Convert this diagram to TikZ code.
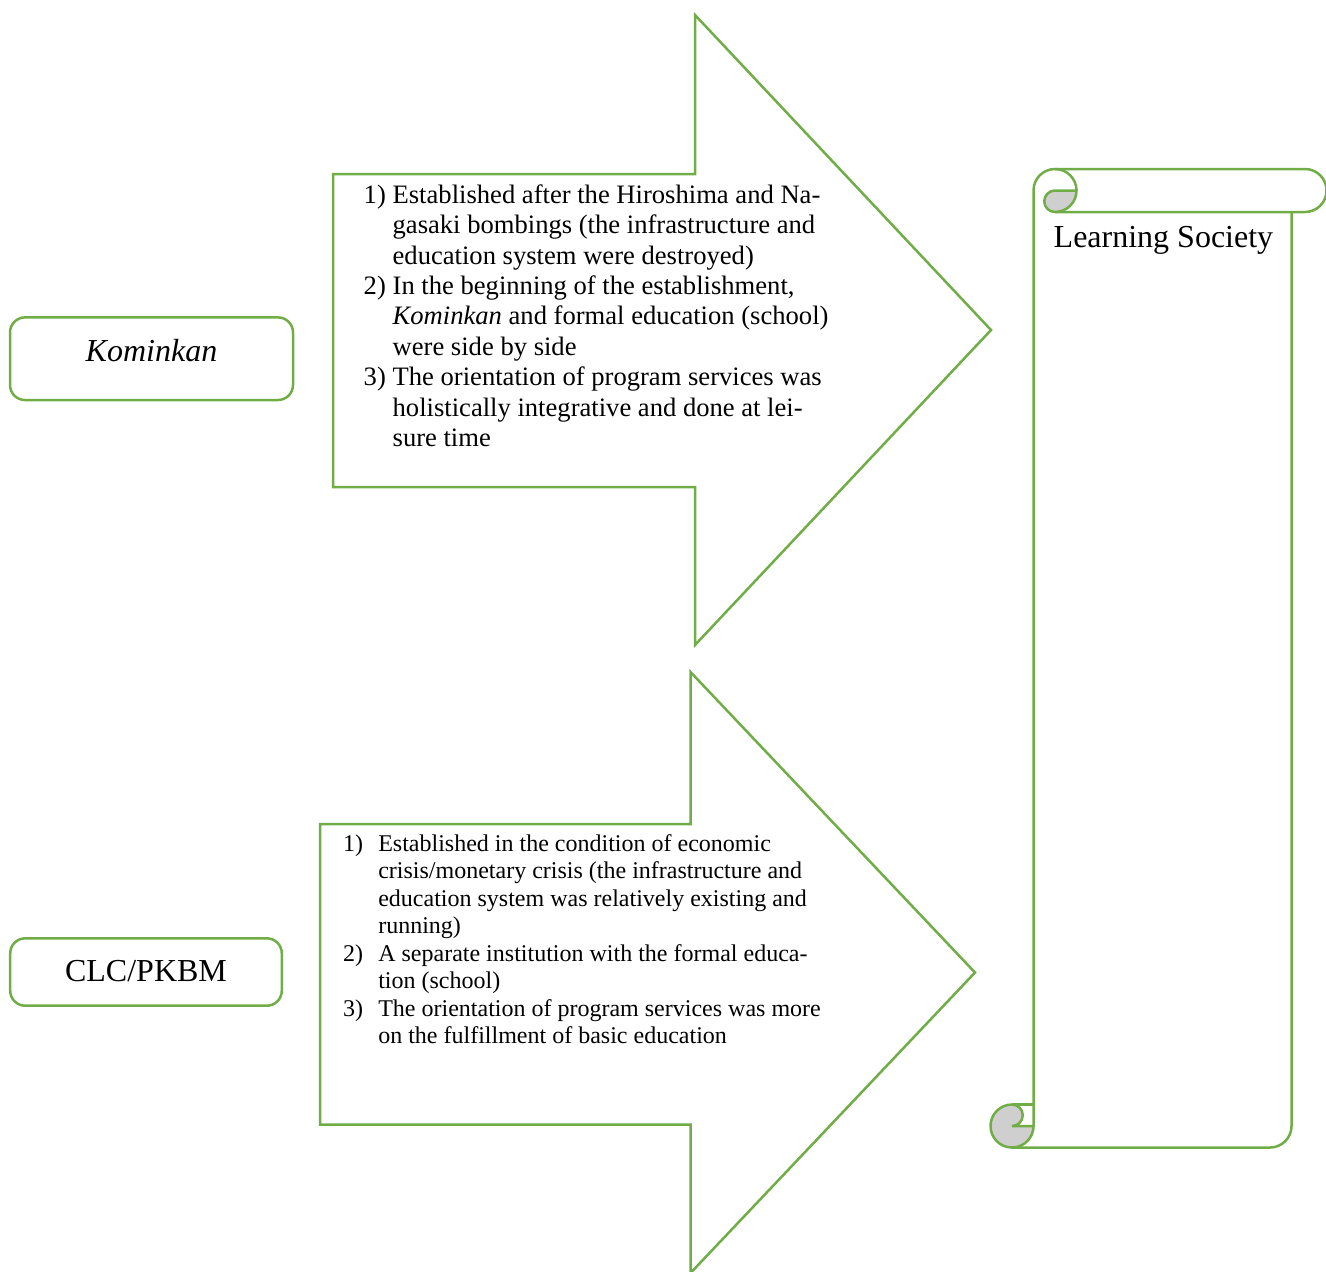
\documentclass[tikz,border=0pt]{standalone}
\usepackage{fontspec}
\setmainfont{Liberation Serif}
\usetikzlibrary{positioning}
\definecolor{leafgreen}{HTML}{70AD47}
\definecolor{curlgrey}{HTML}{CFCFCF}
\tikzstyle{outline} = [draw=leafgreen,line width=1.25pt,line join=miter]
\tikzstyle{namebox} = [outline,rounded corners=7.5pt,align=center,font=\fontsize{16}{19}\selectfont]
\tikzstyle{listtext} = [anchor=base west,inner sep=0pt,align=left]

\begin{document}
\begin{tikzpicture}[x=0.5pt,y=-0.5pt]
	\useasboundingbox (0,0) rectangle (1326,1271);

			% Arrows
			\draw[outline] (333,174) -- (695,174) -- (695,15) -- (991,330)
				-- (695,645) -- (695,487) -- (333,487) -- cycle;
			\draw[outline] (320,824) -- (690.5,824) -- (690.5,672) -- (975,972.5)
				-- (690.5,1273) -- (690.5,1124.5) -- (320,1124.5) -- cycle;

			\node[namebox,
			minimum width=141.5pt,
			minimum height=41.3pt,
			text height=12pt, text depth=9pt,
			] (kominkan) at (151.5,358.7) {\textit{Kominkan}};

			\node[namebox,
			minimum width=135.8pt,
			minimum height=33.7pt,
			text height=11pt, text depth=1.3pt,
			] (clcpkbm) at (146,972) {CLC/PKBM};

			\node[listtext] (komtext) at (363.3,203.3) {\fontsize{13.3}{15.2}\selectfont
			\begin{tabular}[t]{@{}l@{\hspace{3.4pt}}l@{}}
				1) & Established after the Hiroshima and Na-\\
				   & gasaki bombings (the infrastructure and\\
				   & education system were destroyed)\\
				2) & In the beginning of the establishment,\\
				   & \textit{Kominkan} and formal education (school)\\
				   & were side by side\\
				3) & The orientation of program services was\\
				   & holistically integrative and done at lei-\\
				   & sure time
			\end{tabular}};

			\node[listtext] (clctext) at (342.7,851) {\fontsize{12}{13.75}\selectfont
			\begin{tabular}[t]{@{}l@{\hspace{7.6pt}}l@{}}
				1) & Established in the condition of economic\\
				   & crisis/monetary crisis (the infrastructure and\\
				   & education system was relatively existing and\\
				   & running)\\
				2) & A separate institution with the formal educa-\\
				   & tion (school)\\
				3) & The orientation of program services was more\\
				   & on the fulfillment of basic education
			\end{tabular}};

			% Scroll
			\draw[outline] (1033.5,1126) -- (1033.5,190.5)
				arc[start angle=180,end angle=360,radius=21.5];
			\draw[outline,fill=curlgrey] (1055,190.5) -- (1076.5,190.5)
				arc[start angle=0,end angle=90,radius=21.5]
				arc[start angle=90,end angle=270,radius=10.75] -- cycle;
			\draw[outline] (1055,169) -- (1305,169)
				arc[start angle=-90,end angle=90,radius=21.5] -- (1055,212);
			\draw[outline] (1291.5,212) -- (1291.5,1126)
				arc[start angle=0,end angle=90,radius=21.5] -- (1012,1147.5);
			\draw[outline,fill=curlgrey] (1012,1104.5)
				arc[start angle=-90,end angle=-360,radius=21.5] -- (1012,1126)
				arc[start angle=90,end angle=-90,radius=10.75] -- cycle;
			\draw[outline] (1012,1104.5) -- (1033.5,1104.5);

			\node[anchor=base west,inner sep=0pt,font=\fontsize{16}{19}\selectfont]
			(society) at (1053.3,247.3) {Learning Society};
\end{tikzpicture}
\end{document}
